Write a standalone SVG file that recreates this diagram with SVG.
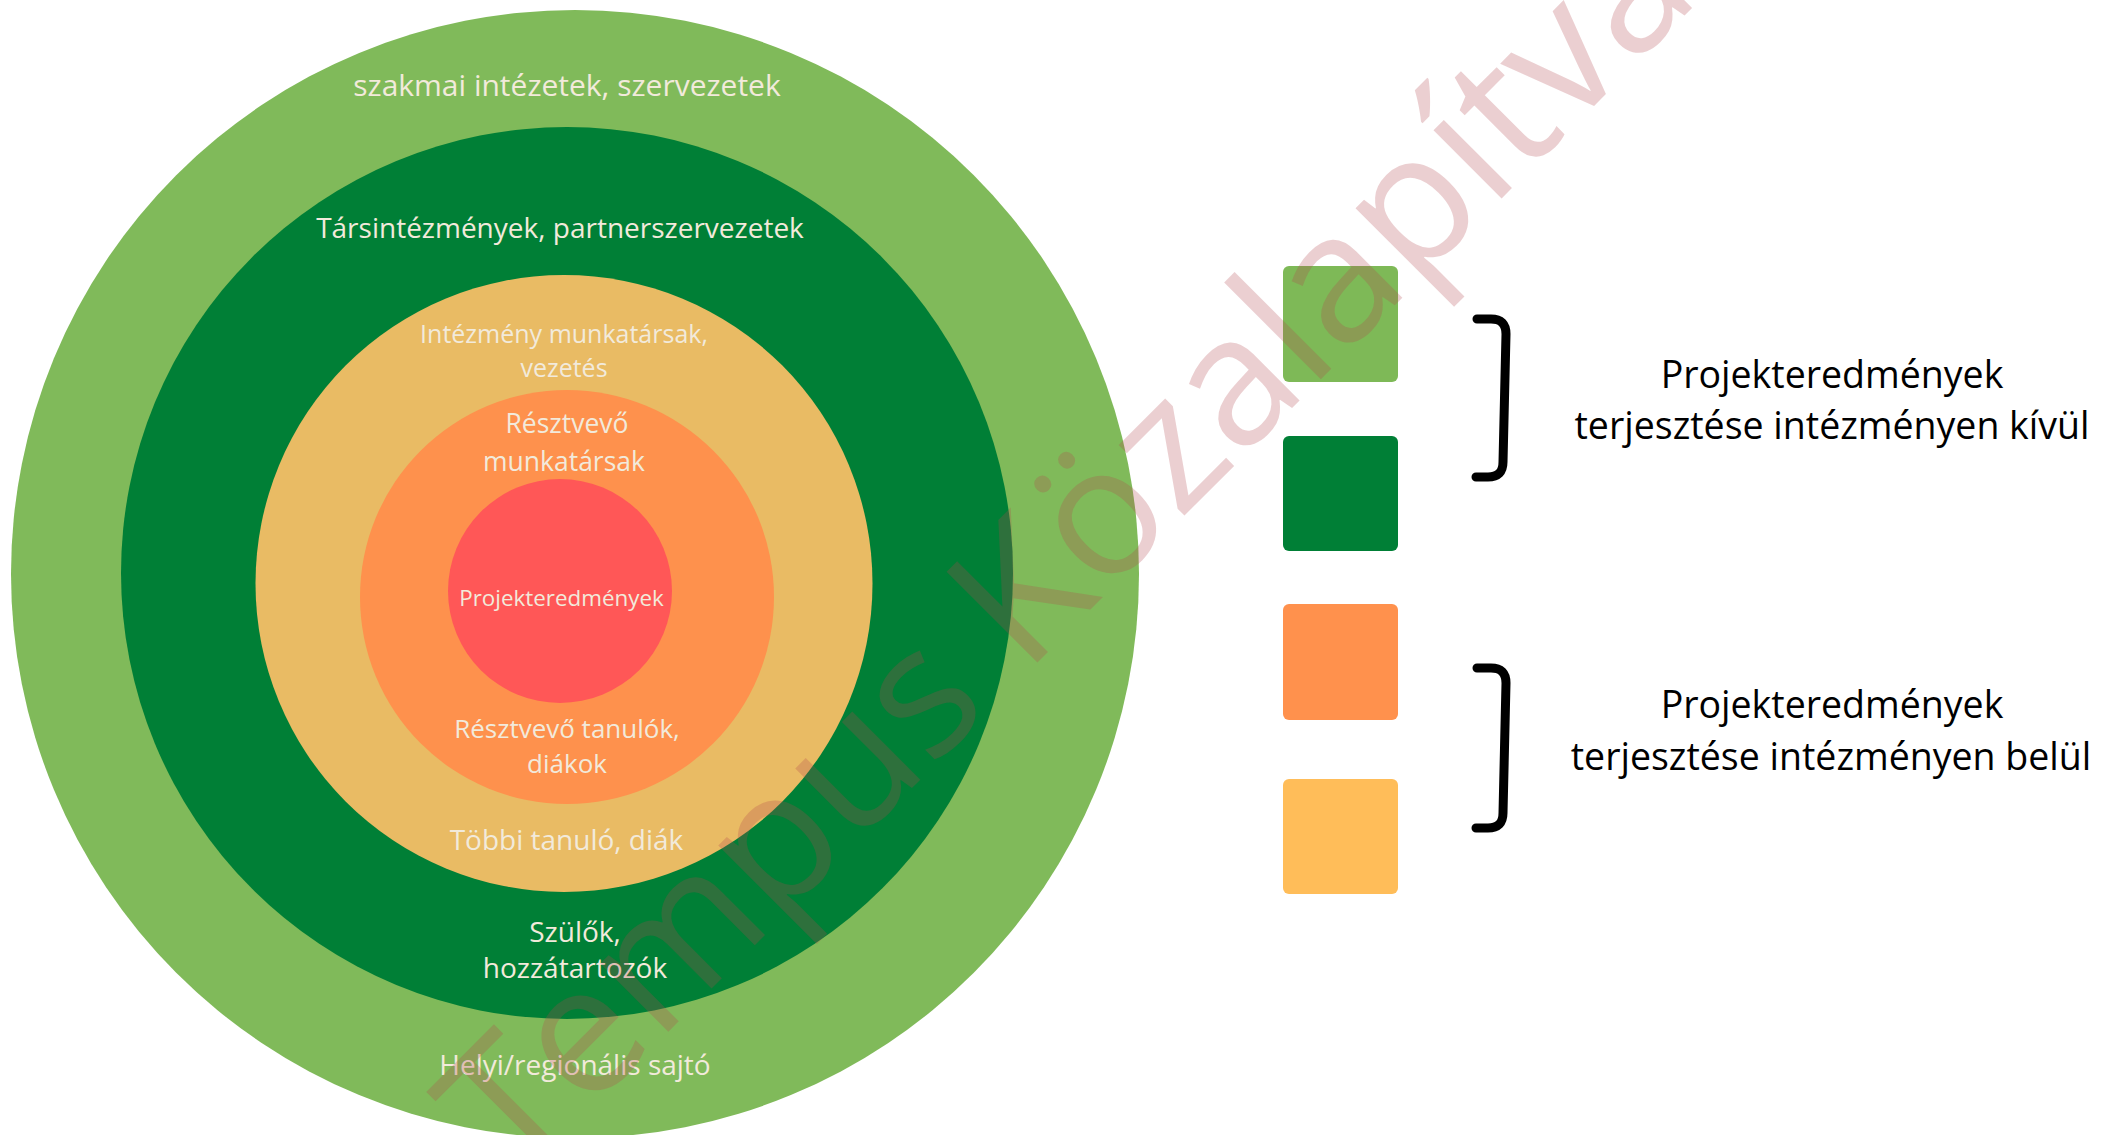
<svg xmlns="http://www.w3.org/2000/svg" width="2105" height="1135" viewBox="0 0 2105 1135">
<style>
  .lbl { font-family: "Open Sans", "Liberation Sans", sans-serif; fill: #f2eadb; text-anchor: middle; }
  .leg { font-family: "Open Sans", "Liberation Sans", sans-serif; fill: #000000; font-size: 37.5px; text-anchor: middle; }
  .sq { rx: 6px; }
  .br { fill: none; stroke: #000000; stroke-width: 9; stroke-linecap: round; stroke-linejoin: round; }
  .wm { font-family: "Open Sans", "Liberation Sans", sans-serif; font-size: 180px; fill: rgb(178, 70, 78); fill-opacity: 0.26; }
</style>
<rect width="2105" height="1135" fill="#ffffff"/>

<g id="ring-outer">
  <circle cx="575" cy="574" r="564" fill="#80ba5a"/>
  <text class="lbl" x="567" y="96" font-size="30">szakmai intézetek, szervezetek</text>
  <text class="lbl" x="575" y="1075" font-size="28">Helyi/regionális sajtó</text>
</g>
<g id="ring-partners">
  <circle cx="567" cy="573" r="446" fill="#007f36"/>
  <text class="lbl" x="560" y="238" font-size="28">Társintézmények, partnerszervezetek</text>
  <text class="lbl" x="575" y="942" font-size="28">Szülők,</text>
  <text class="lbl" x="575" y="978" font-size="28">hozzátartozók</text>
</g>
<g id="ring-institution">
  <circle cx="564" cy="583.5" r="308.5" fill="#e9bb64"/>
  <text class="lbl" x="564" y="343" font-size="25">Intézmény munkatársak,</text>
  <text class="lbl" x="564" y="377" font-size="25">vezetés</text>
  <text class="lbl" x="566.5" y="850" font-size="28">Többi tanuló, diák</text>
</g>
<g id="ring-participants">
  <circle cx="567" cy="597" r="207" fill="#fe914d"/>
  <text class="lbl" x="567" y="433" font-size="26.5">Résztvevő</text>
  <text class="lbl" x="564" y="471" font-size="26.5">munkatársak</text>
  <text class="lbl" x="567" y="738" font-size="26">Résztvevő tanulók,</text>
  <text class="lbl" x="567" y="773" font-size="26">diákok</text>
</g>
<g id="core">
  <circle cx="560" cy="591" r="112" fill="#ff5757"/>
  <text class="lbl" x="561.5" y="606" font-size="22.4">Projekteredmények</text>
</g>

<g id="legend-light-green"><rect class="sq" x="1283" y="266" width="115" height="116" fill="#7eb957"/></g>
<g id="legend-dark-green"><rect class="sq" x="1283" y="436" width="115" height="115" fill="#007f36"/></g>
<g id="legend-orange"><rect class="sq" x="1283" y="604" width="115" height="116" fill="#ff914d"/></g>
<g id="legend-yellow"><rect class="sq" x="1283" y="779" width="115" height="115" fill="#ffbd59"/></g>

<g id="brackets">
  <path class="br" d="M1477,319 L1491,319 Q1506,319 1506,334 L1503,462 Q1503,477 1488,477 L1476,477"/>
  <path class="br" d="M1477,668 L1491,668 Q1506,668 1506,683 L1503,813 Q1503,828 1488,828 L1476,828"/>
</g>

<g id="legend-outside">
  <text class="leg" x="1832" y="388">Projekteredmények</text>
  <text class="leg" x="1832" y="439">terjesztése intézményen kívül</text>
</g>
<g id="legend-inside">
  <text class="leg" x="1832" y="718">Projekteredmények</text>
  <text class="leg" x="1831" y="770">terjesztése intézményen belül</text>
</g>

<g id="watermark">
  <text class="wm" transform="translate(516,1184) rotate(-45)">Tempus Közalapítvány</text>
</g>
</svg>
